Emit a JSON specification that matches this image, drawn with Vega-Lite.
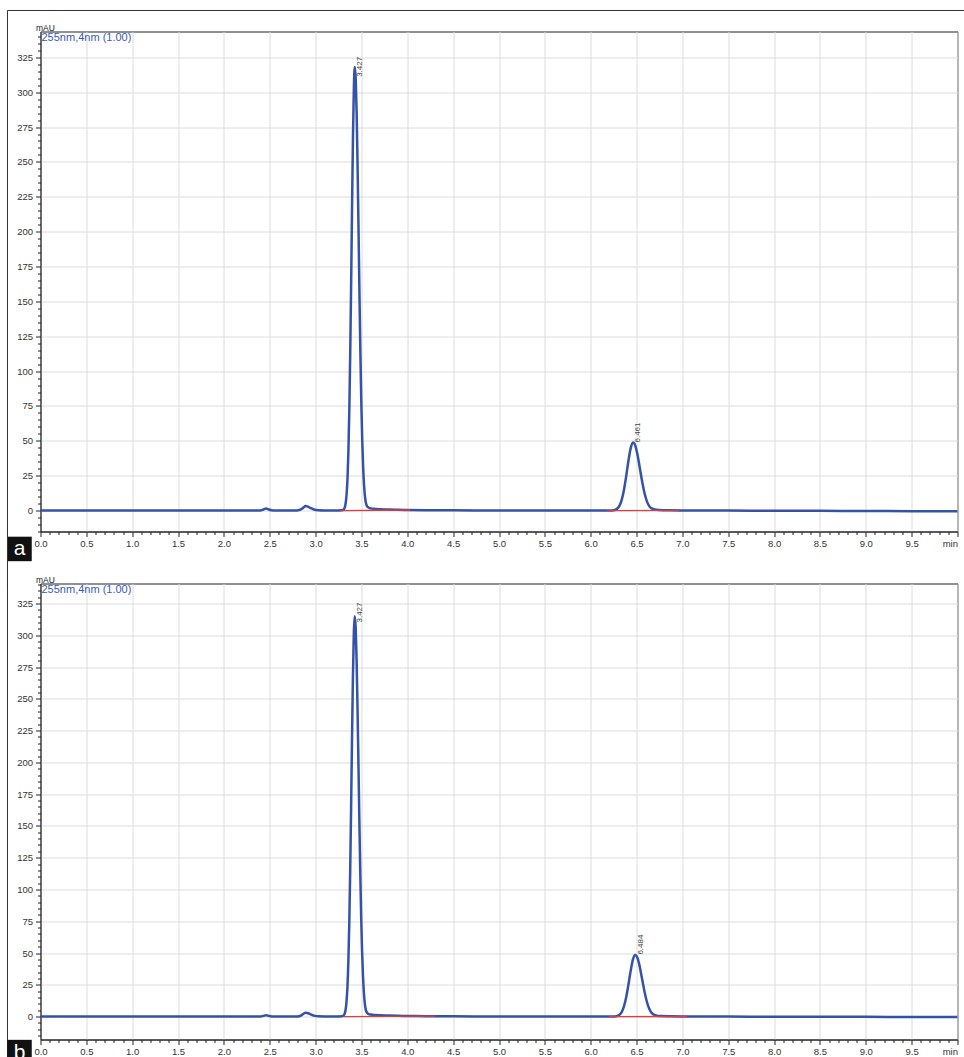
{
  "$schema": "https://vega.github.io/schema/vega-lite/v6.json",
  "padding": {"left": 5.5, "top": 8.5, "right": 0, "bottom": 0},
  "autosize": {"type": "pad"},
  "spacing": 52,
  "bounds": "flush",
  "datasets": {
    "a": [
      {"t":0,"v":0},{"t":0.5,"v":0},{"t":1,"v":0},{"t":1.5,"v":0},{"t":2,"v":0},{"t":2.3,"v":0},
      {"t":2.4,"v":0.1},{"t":2.43,"v":0.8},{"t":2.46,"v":1.5},{"t":2.49,"v":0.8},{"t":2.52,"v":0.2},{"t":2.56,"v":0},
      {"t":2.7,"v":0},{"t":2.8,"v":0.1},{"t":2.84,"v":0.8},{"t":2.87,"v":2.3},{"t":2.89,"v":3.2},{"t":2.91,"v":3.0},
      {"t":2.94,"v":2.0},{"t":2.98,"v":0.8},{"t":3.03,"v":0.2},{"t":3.1,"v":0.05},{"t":3.2,"v":0},{"t":3.29,"v":0.3},
      {"t":3.308,"v":0.9},{"t":3.318,"v":2.3},{"t":3.328,"v":5.4},{"t":3.338,"v":11.7},{"t":3.348,"v":23.3},
      {"t":3.358,"v":43},{"t":3.368,"v":73},{"t":3.378,"v":114.6},{"t":3.388,"v":165.5},{"t":3.398,"v":220},
      {"t":3.408,"v":270},{"t":3.418,"v":305},{"t":3.428,"v":318},{"t":3.438,"v":309},{"t":3.448,"v":284},
      {"t":3.458,"v":246},{"t":3.468,"v":202},{"t":3.478,"v":156.6},{"t":3.488,"v":114.6},{"t":3.498,"v":79.3},
      {"t":3.508,"v":51.8},{"t":3.518,"v":32},{"t":3.528,"v":18.7},{"t":3.538,"v":10.3},{"t":3.548,"v":5.6},
      {"t":3.558,"v":3.5},{"t":3.568,"v":2.6},{"t":3.58,"v":2.0},{"t":3.6,"v":1.6},{"t":3.65,"v":1.2},{"t":3.7,"v":1.0},
      {"t":3.8,"v":0.8},{"t":3.9,"v":0.6},{"t":4,"v":0.45},{"t":4.2,"v":0.3},{"t":4.5,"v":0.2},{"t":5,"v":0.1},
      {"t":5.5,"v":0.05},{"t":6,"v":0},{"t":6.2,"v":0},{"t":6.263,"v":0.43},{"t":6.288,"v":1.3},{"t":6.313,"v":3.4},
      {"t":6.338,"v":7.7},{"t":6.363,"v":14.9},{"t":6.388,"v":25.1},{"t":6.413,"v":36.3},{"t":6.438,"v":45.3},
      {"t":6.463,"v":48.8},{"t":6.488,"v":46.2},{"t":6.513,"v":39.1},{"t":6.538,"v":29.6},{"t":6.563,"v":20.1},
      {"t":6.588,"v":12.2},{"t":6.613,"v":6.6},{"t":6.638,"v":3.2},{"t":6.663,"v":1.6},{"t":6.7,"v":0.7},
      {"t":6.75,"v":0.4},{"t":6.85,"v":0.2},{"t":7,"v":0.1},{"t":7.5,"v":0},{"t":8,"v":-0.1},{"t":8.5,"v":-0.2},
      {"t":9,"v":-0.3},{"t":9.5,"v":-0.4},{"t":10,"v":-0.4}
    ],
    "b": [
      {"t":0,"v":0},{"t":0.5,"v":0},{"t":1,"v":0},{"t":1.5,"v":0},{"t":2,"v":0},{"t":2.3,"v":0},
      {"t":2.4,"v":0.1},{"t":2.43,"v":0.6},{"t":2.46,"v":1.1},{"t":2.49,"v":0.6},{"t":2.52,"v":0.15},{"t":2.56,"v":0},
      {"t":2.7,"v":0},{"t":2.8,"v":0.1},{"t":2.84,"v":0.8},{"t":2.87,"v":2.3},{"t":2.89,"v":3.1},{"t":2.91,"v":2.9},
      {"t":2.94,"v":2.0},{"t":2.98,"v":0.8},{"t":3.03,"v":0.2},{"t":3.1,"v":0.05},{"t":3.2,"v":0},{"t":3.29,"v":0.3},
      {"t":3.307,"v":0.9},{"t":3.317,"v":2.3},{"t":3.327,"v":5.3},{"t":3.337,"v":11.6},{"t":3.347,"v":23.1},
      {"t":3.357,"v":42.6},{"t":3.367,"v":72.3},{"t":3.377,"v":113.5},{"t":3.387,"v":164},{"t":3.397,"v":218},
      {"t":3.407,"v":267.5},{"t":3.417,"v":302},{"t":3.427,"v":315},{"t":3.437,"v":306},{"t":3.447,"v":281},
      {"t":3.457,"v":243.5},{"t":3.467,"v":200},{"t":3.477,"v":155},{"t":3.487,"v":113.5},{"t":3.497,"v":78.5},
      {"t":3.507,"v":51.3},{"t":3.517,"v":31.7},{"t":3.527,"v":18.5},{"t":3.537,"v":10.2},{"t":3.547,"v":5.5},
      {"t":3.557,"v":3.5},{"t":3.567,"v":2.6},{"t":3.58,"v":2.0},{"t":3.6,"v":1.6},{"t":3.65,"v":1.2},{"t":3.7,"v":1.0},
      {"t":3.8,"v":0.8},{"t":3.9,"v":0.6},{"t":4,"v":0.5},{"t":4.2,"v":0.35},{"t":4.5,"v":0.2},{"t":5,"v":0.1},
      {"t":5.5,"v":0.05},{"t":6,"v":0},{"t":6.236,"v":0},{"t":6.286,"v":0.4},{"t":6.311,"v":1.3},{"t":6.336,"v":3.4},
      {"t":6.361,"v":7.7},{"t":6.386,"v":14.8},{"t":6.411,"v":25},{"t":6.436,"v":36.1},{"t":6.461,"v":45},
      {"t":6.486,"v":48.5},{"t":6.511,"v":45.9},{"t":6.536,"v":38.9},{"t":6.561,"v":29.4},{"t":6.586,"v":20},
      {"t":6.611,"v":12.1},{"t":6.636,"v":6.6},{"t":6.661,"v":3.2},{"t":6.686,"v":1.6},{"t":6.72,"v":0.7},
      {"t":6.77,"v":0.4},{"t":6.87,"v":0.2},{"t":7,"v":0.1},{"t":7.5,"v":0},{"t":8,"v":-0.1},{"t":8.5,"v":-0.2},
      {"t":9,"v":-0.2},{"t":9.5,"v":-0.3},{"t":10,"v":-0.3}
    ],
    "base_a": [
      {"seg":1,"t":3.275,"v":0},{"seg":1,"t":4.03,"v":0.4},
      {"seg":2,"t":6.18,"v":0},{"seg":2,"t":6.96,"v":0.1}
    ],
    "base_b": [
      {"seg":1,"t":3.31,"v":0},{"seg":1,"t":4.3,"v":0.35},
      {"seg":2,"t":6.2,"v":0},{"seg":2,"t":7.05,"v":0.1}
    ],
    "peaks_a": [
      {"t":3.427,"v":311,"label":"3.427"},
      {"t":6.461,"v":48.8,"label":"6.461"}
    ],
    "peaks_b": [
      {"t":3.427,"v":310,"label":"3.427"},
      {"t":6.484,"v":48.8,"label":"6.484"}
    ],
    "tag_a": [{"tag":"a","channel":"255nm,4nm (1.00)"}],
    "tag_b": [{"tag":"b","channel":"255nm,4nm (1.00)"}]
  },
  "vconcat": [
    {
      "width": 917,
      "height": 500,
      "layer": [
        {
          "data": {"name": "a"},
          "mark": {"type": "line", "color": "#3452a6", "strokeWidth": 2.5, "interpolate": "monotone"},
          "encoding": {
            "x": {"field": "t", "type": "quantitative", "scale": {"domain": [0, 10], "nice": false},
              "axis": {
                "title": null,
                "tickCount": 500,
                "values": [0,0.1,0.2,0.3,0.4,0.5,0.6,0.7,0.8,0.9,1,1.1,1.2,1.3,1.4,1.5,1.6,1.7,1.8,1.9,2,2.1,2.2,2.3,2.4,2.5,2.6,2.7,2.8,2.9,3,3.1,3.2,3.3,3.4,3.5,3.6,3.7,3.8,3.9,4,4.1,4.2,4.3,4.4,4.5,4.6,4.7,4.8,4.9,5,5.1,5.2,5.3,5.4,5.5,5.6,5.7,5.8,5.9,6,6.1,6.2,6.3,6.4,6.5,6.6,6.7,6.8,6.9,7,7.1,7.2,7.3,7.4,7.5,7.6,7.7,7.8,7.9,8,8.1,8.2,8.3,8.4,8.5,8.6,8.7,8.8,8.9,9,9.1,9.2,9.3,9.4,9.5,9.6,9.7,9.8,9.9,10],
                "labelExpr": "round(datum.value*10) % 5 == 0 ? (datum.value >= 9.99 ? 'min' : format(datum.value, '.1f')) : ''",
                "labelAlign": {"condition": {"test": "datum.value >= 9.99", "value": "right"}, "value": "center"},
                "tickSize": {"condition": {"test": "round(datum.value*10) % 5 == 0", "value": 5}, "value": 3},
                "gridOpacity": {"condition": {"test": "round(datum.value*10) % 5 == 0", "value": 1}, "value": 0}
              }
            },
            "y": {"field": "v", "type": "quantitative", "scale": {"domain": [-15, 343.5], "nice": false},
              "axis": {
                "title": "mAU",
                "tickCount": 500,
                "values": [-15,-10,-5,0,5,10,15,20,25,30,35,40,45,50,55,60,65,70,75,80,85,90,95,100,105,110,115,120,125,130,135,140,145,150,155,160,165,170,175,180,185,190,195,200,205,210,215,220,225,230,235,240,245,250,255,260,265,270,275,280,285,290,295,300,305,310,315,320,325,330,335,340],
                "labelExpr": "datum.value % 25 == 0 && datum.value >= 0 ? format(datum.value, 'd') : ''",
                "tickSize": {"condition": {"test": "datum.value % 25 == 0", "value": 5}, "value": 3},
                "gridOpacity": {"condition": {"test": "datum.value % 25 == 0 && datum.value >= 0", "value": 1}, "value": 0}
              }
            }
          }
        },
        {
          "data": {"name": "base_a"},
          "mark": {"type": "line", "color": "#e33b3b", "strokeWidth": 1.3},
          "encoding": {
            "x": {"field": "t", "type": "quantitative", "title": null, "scale": {"domain": [0, 10], "nice": false}},
            "y": {"field": "v", "type": "quantitative", "title": "mAU", "scale": {"domain": [-15, 343.5], "nice": false}},
            "detail": {"field": "seg"}
          }
        },
        {
          "data": {"name": "peaks_a"},
          "mark": {"type": "text", "angle": 270, "align": "left", "baseline": "top", "fontSize": 8, "color": "#444", "dy": 1.5},
          "encoding": {
            "x": {"field": "t", "type": "quantitative", "title": null, "scale": {"domain": [0, 10], "nice": false}},
            "y": {"field": "v", "type": "quantitative", "title": "mAU", "scale": {"domain": [-15, 343.5], "nice": false}},
            "text": {"field": "label"}
          }
        },
        {
          "data": {"name": "tag_a"},
          "mark": {"type": "text", "align": "left", "baseline": "alphabetic", "fontSize": 11, "color": "#3a5bb5", "dx": 1, "dy": 9.7},
          "encoding": {
            "x": {"datum": 0, "scale": {"domain": [0, 10], "nice": false}},
            "y": {"datum": 343.5, "scale": {"domain": [-15, 343.5], "nice": false}},
            "text": {"field": "channel"}
          }
        },
        {
          "data": {"name": "tag_a"},
          "mark": {"type": "rule", "color": "#333", "strokeWidth": 1},
          "encoding": {
            "x": {"datum": -0.36, "scale": {"domain": [0, 10], "nice": false}},
            "x2": {"datum": 10.1},
            "y": {"datum": 358.56, "scale": {"domain": [-15, 343.5], "nice": false}}
          }
        },
        {
          "data": {"name": "tag_a"},
          "mark": {"type": "rule", "color": "#333", "strokeWidth": 1},
          "encoding": {
            "x": {"datum": -0.36, "scale": {"domain": [0, 10], "nice": false}},
            "y": {"datum": 358.56, "scale": {"domain": [-15, 343.5], "nice": false}},
            "y2": {"datum": -55}
          }
        },
        {
          "data": {"name": "tag_a"},
          "mark": {"type": "point", "shape": "square", "size": 600, "filled": true, "color": "#111", "opacity": 1},
          "encoding": {
            "x": {"datum": -0.229, "scale": {"domain": [0, 10], "nice": false}},
            "y": {"datum": -27.5, "scale": {"domain": [-15, 343.5], "nice": false}}
          }
        },
        {
          "data": {"name": "tag_a"},
          "mark": {"type": "text", "color": "white", "fontSize": 21, "align": "center", "baseline": "alphabetic", "dy": 6.5},
          "encoding": {
            "x": {"datum": -0.229, "scale": {"domain": [0, 10], "nice": false}},
            "y": {"datum": -27.5, "scale": {"domain": [-15, 343.5], "nice": false}},
            "text": {"field": "tag"}
          }
        }
      ]
    },
    {
      "width": 917,
      "height": 456,
      "layer": [
        {
          "data": {"name": "b"},
          "mark": {"type": "line", "color": "#3452a6", "strokeWidth": 2.5, "interpolate": "monotone"},
          "encoding": {
            "x": {"field": "t", "type": "quantitative", "scale": {"domain": [0, 10], "nice": false},
              "axis": {
                "title": null,
                "tickCount": 500,
                "values": [0,0.1,0.2,0.3,0.4,0.5,0.6,0.7,0.8,0.9,1,1.1,1.2,1.3,1.4,1.5,1.6,1.7,1.8,1.9,2,2.1,2.2,2.3,2.4,2.5,2.6,2.7,2.8,2.9,3,3.1,3.2,3.3,3.4,3.5,3.6,3.7,3.8,3.9,4,4.1,4.2,4.3,4.4,4.5,4.6,4.7,4.8,4.9,5,5.1,5.2,5.3,5.4,5.5,5.6,5.7,5.8,5.9,6,6.1,6.2,6.3,6.4,6.5,6.6,6.7,6.8,6.9,7,7.1,7.2,7.3,7.4,7.5,7.6,7.7,7.8,7.9,8,8.1,8.2,8.3,8.4,8.5,8.6,8.7,8.8,8.9,9,9.1,9.2,9.3,9.4,9.5,9.6,9.7,9.8,9.9,10],
                "labelExpr": "round(datum.value*10) % 5 == 0 ? (datum.value >= 9.99 ? 'min' : format(datum.value, '.1f')) : ''",
                "labelAlign": {"condition": {"test": "datum.value >= 9.99", "value": "right"}, "value": "center"},
                "tickSize": {"condition": {"test": "round(datum.value*10) % 5 == 0", "value": 5}, "value": 3},
                "gridOpacity": {"condition": {"test": "round(datum.value*10) % 5 == 0", "value": 1}, "value": 0}
              }
            },
            "y": {"field": "v", "type": "quantitative", "scale": {"domain": [-18, 340.7], "nice": false},
              "axis": {
                "title": "mAU",
                "tickCount": 500,
                "values": [-15,-10,-5,0,5,10,15,20,25,30,35,40,45,50,55,60,65,70,75,80,85,90,95,100,105,110,115,120,125,130,135,140,145,150,155,160,165,170,175,180,185,190,195,200,205,210,215,220,225,230,235,240,245,250,255,260,265,270,275,280,285,290,295,300,305,310,315,320,325,330,335,340],
                "labelExpr": "datum.value % 25 == 0 && datum.value >= 0 ? format(datum.value, 'd') : ''",
                "tickSize": {"condition": {"test": "datum.value % 25 == 0", "value": 5}, "value": 3},
                "gridOpacity": {"condition": {"test": "datum.value % 25 == 0 && datum.value >= 0", "value": 1}, "value": 0}
              }
            }
          }
        },
        {
          "data": {"name": "base_b"},
          "mark": {"type": "line", "color": "#e33b3b", "strokeWidth": 1.3},
          "encoding": {
            "x": {"field": "t", "type": "quantitative", "title": null, "scale": {"domain": [0, 10], "nice": false}},
            "y": {"field": "v", "type": "quantitative", "title": "mAU", "scale": {"domain": [-18, 340.7], "nice": false}},
            "detail": {"field": "seg"}
          }
        },
        {
          "data": {"name": "peaks_b"},
          "mark": {"type": "text", "angle": 270, "align": "left", "baseline": "top", "fontSize": 8, "color": "#444", "dy": 1.5},
          "encoding": {
            "x": {"field": "t", "type": "quantitative", "title": null, "scale": {"domain": [0, 10], "nice": false}},
            "y": {"field": "v", "type": "quantitative", "title": "mAU", "scale": {"domain": [-18, 340.7], "nice": false}},
            "text": {"field": "label"}
          }
        },
        {
          "data": {"name": "tag_b"},
          "mark": {"type": "text", "align": "left", "baseline": "alphabetic", "fontSize": 11, "color": "#3a5bb5", "dx": 1, "dy": 9.7},
          "encoding": {
            "x": {"datum": 0, "scale": {"domain": [0, 10], "nice": false}},
            "y": {"datum": 340.7, "scale": {"domain": [-18, 340.7], "nice": false}},
            "text": {"field": "channel"}
          }
        },
        {
          "data": {"name": "tag_b"},
          "mark": {"type": "rule", "color": "#333", "strokeWidth": 1},
          "encoding": {
            "x": {"datum": -0.36, "scale": {"domain": [0, 10], "nice": false}},
            "y": {"datum": 385, "scale": {"domain": [-18, 340.7], "nice": false}},
            "y2": {"datum": -40}
          }
        },
        {
          "data": {"name": "tag_b"},
          "mark": {"type": "point", "shape": "square", "size": 600, "filled": true, "color": "#111", "opacity": 1},
          "encoding": {
            "x": {"datum": -0.229, "scale": {"domain": [0, 10], "nice": false}},
            "y": {"datum": -27.9, "scale": {"domain": [-18, 340.7], "nice": false}}
          }
        },
        {
          "data": {"name": "tag_b"},
          "mark": {"type": "text", "color": "white", "fontSize": 21, "align": "center", "baseline": "alphabetic", "dy": 6.5},
          "encoding": {
            "x": {"datum": -0.229, "scale": {"domain": [0, 10], "nice": false}},
            "y": {"datum": -27.9, "scale": {"domain": [-18, 340.7], "nice": false}},
            "text": {"field": "tag"}
          }
        }
      ]
    }
  ],
  "config": {
    "font": "Liberation Sans",
    "view": {"stroke": "#222", "strokeWidth": 1},
    "axis": {
      "domainColor": "#222",
      "tickColor": "#222",
      "labelColor": "#333",
      "labelFont": "Liberation Sans",
      "labelFontSize": 9.5,
      "gridColor": "#dcdcdc",
      "gridWidth": 1,
      "labelOverlap": false,
      "labelBound": false,
      "labelFlush": false,
      "labelPadding": 2
    },
    "axisY": {
      "labelPadding": 3,
      "titleAngle": 0,
      "titleAlign": "left",
      "titleBaseline": "alphabetic",
      "titleX": -5,
      "titleY": -1.5,
      "titleColor": "#222",
      "titleFont": "Liberation Sans",
      "titleFontSize": 8.5,
      "titleFontWeight": "normal"
    }
  }
}
